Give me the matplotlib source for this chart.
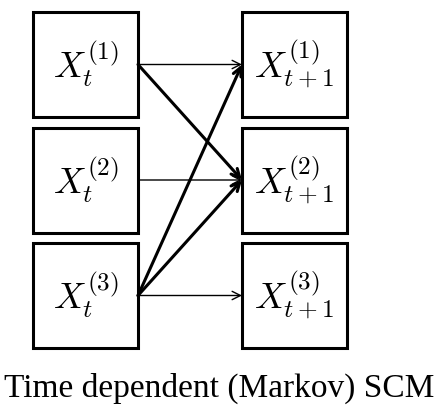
import matplotlib
matplotlib.use('Agg')
import matplotlib.pyplot as plt
from matplotlib.patches import Rectangle

plt.rcParams['mathtext.fontset'] = 'cm'

# node labels: column 0 = time t, column 1 = time t+1
left_labels = [r'$X_t^{(1)}$', r'$X_t^{(2)}$', r'$X_t^{(3)}$']
right_labels = [r'$X_{t+1}^{(1)}$', r'$X_{t+1}^{(2)}$', r'$X_{t+1}^{(3)}$']
# edges (source row, target row), thin = self-persistence, thick = cross links
thin_edges = [(0, 0), (1, 1), (2, 2)]
thick_edges = [(0, 1), (2, 0), (2, 1)]
caption = 'Time dependent (Markov) SCM'

fig = plt.figure(figsize=(4.36, 4.12), dpi=100)
ax = fig.add_axes([0, 0, 1, 1])
ax.set_xlim(0, 436)
ax.set_ylim(412, 0)
ax.axis('off')

box = 105
col_x = [33, 242]
row_y = [12, 127.5, 243]

def draw_box(x, y, label):
    ax.add_patch(Rectangle((x, y), box, box, fill=False, lw=2.2, ec='black'))
    ax.text(x + box / 2, y + box / 2, label, fontsize=26, ha='center', va='center')

for i, lab in enumerate(left_labels):
    draw_box(col_x[0], row_y[i], lab)
for i, lab in enumerate(right_labels):
    draw_box(col_x[1], row_y[i], lab)

def draw_edge(src, dst, lw):
    start = (col_x[0] + box, row_y[src] + box / 2)
    end = (col_x[1], row_y[dst] + box / 2)
    ax.annotate('', xy=end, xytext=start,
                arrowprops=dict(arrowstyle='->,head_length=0.6,head_width=0.3',
                                lw=lw, color='black', shrinkA=0, shrinkB=0))

for s, d in thin_edges:
    draw_edge(s, d, 1.0)
for s, d in thick_edges:
    draw_edge(s, d, 2.2)

ax.text(219, 397, caption, fontsize=24, family='Liberation Serif',
        ha='center', va='baseline')

fig.savefig('out.png', dpi=100)
